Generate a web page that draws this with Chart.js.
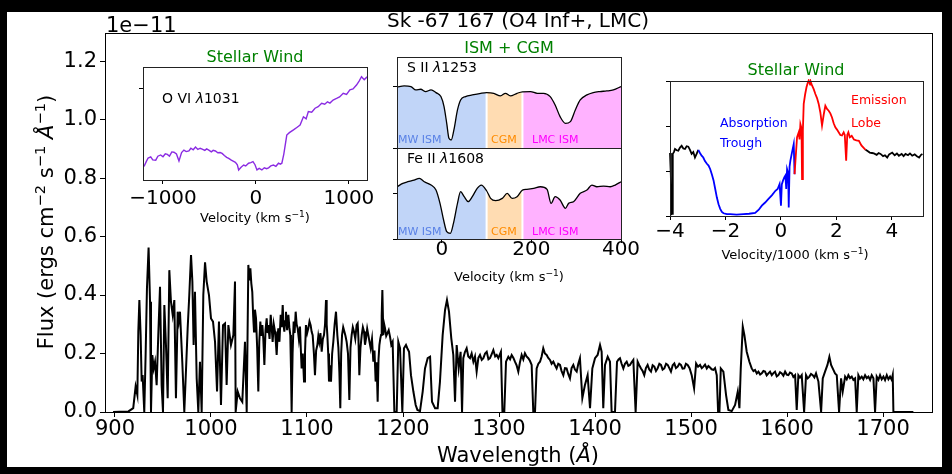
<!DOCTYPE html>
<html>
<head>
<meta charset="utf-8">
<script src="https://cdn.jsdelivr.net/npm/chart.js@4.4.0/dist/chart.umd.min.js"></script>
<style>
  html, body { margin: 0; padding: 0; background: #000; width: 952px; height: 474px; overflow: hidden; }
  #fig { position: absolute; left: 7px; top: 12px; width: 935px; height: 455px; background: #fff; }
  canvas { position: absolute; left: 0; top: 0; }
</style>
</head>
<body>
<div id="fig"></div>
<canvas id="main" width="952" height="474"></canvas>
<canvas id="ovi" width="952" height="474"></canvas>
<canvas id="sii" width="952" height="474"></canvas>
<canvas id="feii" width="952" height="474"></canvas>
<canvas id="civ" width="952" height="474"></canvas>
<script>
// ---- full UV spectrum, flux in units of 1e-11 erg cm^-2 s^-1 A^-1 ----
const specWave = [
  898, 905, 914, 919, 921.5, 923.3, 924.3, 925.4, 926.7, 927.8,
  928.8, 930.5, 931.9, 933.3, 935, 936.5, 937.5, 938.9, 940.3, 941.7,
  943.4, 945.1, 946.9, 948.6, 950, 951.4, 953.1, 954.9, 956.6, 958.3,
  960.1, 961.8, 963.5, 965.3, 966.5, 967.7, 969, 970.1, 972.2, 973.9,
  975.7, 977.4, 979.2, 980.6, 981.9, 983.3, 985.1, 986.8, 988.5, 990.3,
  992, 993.8, 995.5, 997.9, 1000, 1002.1, 1004.2, 1006.3, 1008.3, 1010.4,
  1012.5, 1014.6, 1016.3, 1018.1, 1020.8, 1023.3, 1025, 1025.7, 1027.8, 1030.2,
  1032.6, 1035.4, 1037.2, 1038.9, 1040, 1041, 1042, 1043, 1043.9, 1044.8,
  1045.8, 1046.9, 1048.1, 1049.3, 1050.3, 1051.4, 1052.4, 1053.5, 1054.5, 1055.6,
  1056.8, 1058, 1058.9, 1059.7, 1061, 1062.2, 1063.2, 1064.2, 1065.4, 1066.7,
  1067.5, 1068.4, 1069.2, 1070.1, 1071.3, 1072.6, 1073.6, 1074.7, 1075.5, 1076.4,
  1077.2, 1078.1, 1079.3, 1080.6, 1081.6, 1082.6, 1083.3, 1084, 1085, 1086.1,
  1087.1, 1088.2, 1089.2, 1090.3, 1091.5, 1092.7, 1093.5, 1094.4, 1095.6, 1096.9,
  1097.9, 1098.9, 1100.2, 1101.4, 1102.6, 1103.8, 1104.8, 1105.9, 1107.2, 1108.3,
  1109.5, 1110.8, 1111.8, 1112.8, 1114, 1115.3, 1116.5, 1117.7, 1118.8, 1119.8,
  1120.5, 1121.2, 1122.1, 1122.9, 1124, 1125, 1126.2, 1127.4, 1128.8, 1130.2,
  1131.6, 1132.7, 1133.7, 1134.7, 1135.6, 1136.5, 1137.7, 1138.9, 1140.1, 1141.3,
  1142.7, 1144.1, 1145.3, 1146.5, 1147.7, 1148.9, 1150.3, 1151.7, 1152.8, 1153.6,
  1154.5, 1155.7, 1157, 1158.2, 1159.4, 1160.4, 1161.5, 1162.7, 1163.9, 1165.1,
  1166.3, 1167.7, 1169.1, 1170.3, 1171.5, 1172.5, 1173.6, 1174.5, 1175.4, 1176.3,
  1177.1, 1177.8, 1178.5, 1179.5, 1180.4, 1181.3, 1182.5, 1183.7, 1185.1, 1186.5,
  1187.8, 1189.2, 1191, 1193.4, 1195.1, 1196.9,
  1199.3, 1201, 1203.1, 1204.5, 1206.3, 1208.3, 1210.8, 1213.2, 1215, 1217.7,
  1220.5, 1222.9, 1225.7, 1228.2, 1230.2, 1233.4, 1236.1, 1238.5, 1241.3, 1243.8,
  1245.8, 1247.9, 1250.3, 1252.4, 1254.2, 1255.9, 1258, 1260, 1261.5, 1262.8,
  1264.5, 1266.3, 1268, 1269.8, 1271.5, 1273.3, 1275, 1276.7, 1278.5, 1280.2,
  1282, 1283.7, 1285.5, 1287.2, 1289, 1290.6, 1292.4, 1294.1, 1296, 1297.6,
  1299.3, 1302, 1303.6, 1305.5, 1307.3, 1309.7, 1311.5, 1313.2, 1315, 1316.6,
  1318.3, 1320.1, 1321.8, 1323.6, 1325.3, 1327, 1328.7, 1330.5, 1332.2, 1334,
  1335.7, 1337.5, 1339.2, 1341, 1342.7, 1344.4, 1346.1, 1347.8, 1349.6, 1351.3,
  1353.1, 1354.8, 1356.6, 1358.3, 1360, 1361.7, 1363.5, 1365.2, 1367, 1368.7,
  1370.4, 1372.1, 1373.9, 1375.6, 1377.4, 1379.1, 1380.9, 1382.6, 1384.3, 1386.8,
  1389.5, 1392.3, 1394.8, 1397.2, 1400, 1402.7, 1405.2, 1406.9, 1408.6, 1410.4,
  1413.2, 1415.6, 1417.3, 1420.8, 1422.9, 1424.5, 1426, 1427.7, 1429.5, 1431.2,
  1433, 1434.7, 1436.4, 1438.1, 1439.9, 1442.3, 1444.4, 1446.1, 1447.9, 1449.6,
  1451.3, 1453, 1454.8, 1456.5, 1458.3, 1460, 1461.8, 1463.5, 1465.2, 1467,
  1468.7, 1470.4, 1472.2, 1474, 1475.7, 1477.4, 1479.1, 1480.9, 1482.6, 1484.3,
  1486.1, 1487.8, 1489.5, 1491.2, 1493, 1494.7, 1496.5, 1498.5, 1500.7, 1503.2,
  1505.3, 1507.3, 1509.4, 1511.2, 1512.9, 1514.6, 1516.4, 1518.1, 1519.8, 1521.5,
  1523.3, 1525, 1526.8, 1528.2, 1529.6, 1531, 1533.7, 1536.5, 1538.9, 1542.4,
  1545.9, 1548.7, 1550.4, 1551.8, 1553.9, 1555.6, 1558, 1560.8, 1563.2, 1565,
  1566.7, 1568.5, 1570.2, 1572, 1573.7, 1575.4, 1577.1, 1578.8, 1580.6, 1582.3,
  1584.1, 1585.8, 1587.5, 1589.3, 1591, 1592.7, 1594.5, 1596.2, 1598, 1599.7,
  1601.4, 1603.1, 1604.9, 1606.6, 1608.4, 1610.1, 1611.8, 1613.5, 1615.3, 1617.8,
  1619.8, 1621.5, 1623.3, 1625, 1626.8, 1628.5, 1630.2, 1632.7, 1635.5, 1637.2,
  1639.6, 1642.1, 1644.1, 1645.9, 1648.3, 1650, 1651.8, 1654.2, 1656.3, 1658,
  1660.5, 1662.2, 1663.9, 1665.6, 1667.4, 1669.1, 1670.9, 1672.6, 1674.3, 1676,
  1677.8, 1679.5, 1681.3, 1683, 1684.8, 1686.5, 1688.2, 1690, 1691.7, 1693.4,
  1695.2, 1696.9, 1698.6, 1700.4, 1702.1, 1703.9, 1705.6, 1707.3, 1709, 1710.1,
  1710.8, 1731.6
];
const specFlux = [
  0, 0.001, 0.002, 0.013, 0.087, 0.058, 0.275, 0.383, 0.263, 0.104,
  0.126, 0, 0.195, 0.423, 0.562, 0.377, 0, 0.195, 0.149, 0.172,
  0.092, 0.263, 0.428, 0.092, 0, 0.366, 0.229, 0.047, 0.485, 0.377,
  0.332, 0.383, 0.047, 0.343, 0.31, 0.343, 0.25, 0.172, 0, 0.138,
  0.286, 0.4, 0.537, 0.446, 0.229, 0.411, 0.115, 0, 0.172, 0,
  0.4, 0.512, 0.446, 0.4, 0.32, 0.309, 0.24, 0.07, 0.309, 0.024,
  0.297, 0.303, 0.092, 0.297, 0.229, 0.263, 0.446, 0, 0.07, 0.047,
  0.035, 0.24, 0, 0.503, 0.45, 0.491, 0.44, 0.411, 0.33, 0.275,
  0.35, 0.32, 0.22, 0.07, 0.24, 0.309, 0.26, 0.297, 0.25, 0.161,
  0.28, 0.32, 0.27, 0.297, 0.25, 0.332, 0.29, 0.24, 0.3, 0.275,
  0.24, 0.195, 0.25, 0.286, 0.24, 0.332, 0.29, 0.366, 0.3, 0.275,
  0.31, 0.343, 0.28, 0.332, 0.29, 0.263, 0.15, 0, 0.2, 0.309,
  0.27, 0.343, 0.3, 0.286, 0.25, 0.292, 0.22, 0.149, 0.2, 0.104,
  0.2, 0.297, 0.27, 0.286, 0.31, 0.297, 0.275, 0.263, 0.2, 0.126,
  0.21, 0.229, 0.26, 0.24, 0.27, 0.206, 0.25, 0.263, 0.3, 0.383,
  0.3, 0.263, 0.2, 0.104, 0.16, 0.104, 0.2, 0.24, 0.3, 0.343,
  0.263, 0.22, 0.138, 0.013, 0.2, 0.263, 0.29, 0.275, 0.26, 0.24,
  0.2, 0.041, 0.22, 0.263, 0.29, 0.275, 0.25, 0.297, 0.303, 0.25,
  0.126, 0.22, 0.263, 0.29, 0.275, 0.23, 0.252, 0.285, 0.263, 0.24,
  0.218, 0.25, 0.172, 0.21, 0.104, 0.17, 0.035, 0.18, 0.229, 0.25,
  0.263, 0.33, 0.417, 0.263, 0.3, 0.286, 0.26, 0.269, 0.28, 0.257,
  0.23, 0.24, 0, 0, 0.24, 0.218,
  0, 0.218, 0.229, 0.218, 0.206, 0.126, 0.07, 0.024, 0.007, 0.003,
  0.07, 0.149, 0.184, 0.189, 0.035, 0.013, 0.013, 0.104, 0.263, 0.349,
  0.383, 0.343, 0.252, 0.195, 0.035, 0.229, 0.149, 0.206, 0, 0.184,
  0.205, 0.218, 0.19, 0.184, 0.2, 0.172, 0.19, 0.138, 0.185, 0.195,
  0.178, 0.184, 0.2, 0.206, 0.18, 0.184, 0.198, 0.212, 0.19, 0.195,
  0.184, 0.206, 0, 0, 0.172, 0.189, 0.18, 0.195, 0.185, 0.172,
  0.16, 0.138, 0.17, 0.195, 0.18, 0.201, 0.19, 0.184, 0.175, 0.161,
  0, 0, 0.149, 0.165, 0.172, 0.19, 0.218, 0.2, 0.195, 0.185,
  0.178, 0.165, 0.172, 0.16, 0.149, 0.165, 0.161, 0.14, 0.126, 0.15,
  0.149, 0.13, 0.115, 0.15, 0.161, 0.145, 0.138, 0.165, 0.184, 0.047,
  0.092, 0.126, 0.013, 0.149, 0.184, 0.195, 0.229, 0.206, 0.013, 0.161,
  0.189, 0.172, 0, 0, 0.172, 0.18, 0.184, 0.165, 0.149, 0.165,
  0.172, 0.158, 0.161, 0.17, 0.178, 0, 0.172, 0.16, 0.149, 0.14,
  0.126, 0.15, 0.161, 0.145, 0.138, 0.16, 0.155, 0.14, 0.149, 0.165,
  0.161, 0.145, 0.149, 0.165, 0.161, 0.15, 0.138, 0.16, 0.166, 0.15,
  0.155, 0.165, 0.161, 0.148, 0.149, 0.165, 0.161, 0.15, 0.126, 0.081,
  0.166, 0.155, 0.161, 0.15, 0.155, 0.162, 0.149, 0.157, 0.152, 0.146,
  0.144, 0.15, 0.126, 0, 0, 0.149, 0.138, 0.058, 0.007, 0.003,
  0.024, 0.07, 0.013, 0.149, 0.292, 0.263, 0.206, 0.172, 0.149, 0.14,
  0.144, 0.132, 0.138, 0.128, 0.132, 0.14, 0.138, 0.125, 0.132, 0.138,
  0.126, 0.133, 0.138, 0.122, 0.126, 0.136, 0.132, 0.124, 0.138, 0.128,
  0.126, 0.135, 0.132, 0.12, 0.126, 0.007, 0.126, 0.118, 0.126, 0,
  0.126, 0.115, 0.121, 0.13, 0.126, 0.118, 0.132, 0.104, 0, 0.115,
  0.138, 0.161, 0.189, 0.161, 0.144, 0.132, 0.126, 0, 0.115, 0.07,
  0.121, 0.112, 0.126, 0.116, 0.121, 0.11, 0.115, 0, 0.126, 0.114,
  0.121, 0.112, 0.126, 0.116, 0.121, 0.11, 0.126, 0.115, 0, 0.121,
  0.11, 0.126, 0.112, 0.121, 0.109, 0.126, 0.112, 0.121, 0.11, 0.126,
  0, 0
];
const waveTicks = [900, 1000, 1100, 1200, 1300, 1400, 1500, 1600, 1700];
const fluxTicks = [0, 0.2, 0.4, 0.6, 0.8, 1.0, 1.2];

// ---- O VI 1031 profile ----
const oviVel = [
  -1204, -1180, -1160, -1132, -1110, -1078, -1055, -1025, -1000, -975,
  -953, -930, -905, -882, -855, -828, -800, -775, -750, -721,
  -700, -675, -650, -625, -600, -578, -550, -530, -507, -480,
  -460, -436, -410, -385, -364, -340, -315, -293, -265, -240,
  -221, -200, -186, -160, -132, -110, -79, -55, -32, -10,
  11, 35, 64, 90, 115, 136, 160, 189, 215, 243,
  262, 279, 300, 332, 360, 404, 440, 475, 511, 540,
  564, 600, 636, 670, 707, 740, 770, 796, 830, 868,
  900, 939, 975, 1011, 1045, 1082, 1110, 1136, 1165, 1196
];
const oviFlux = [
  0.144, 0.160, 0.172, 0.176, 0.166, 0.165, 0.178, 0.182, 0.176, 0.186,
  0.184, 0.178, 0.192, 0.191, 0.185, 0.162, 0.190, 0.198, 0.193, 0.195,
  0.204, 0.199, 0.208, 0.200, 0.204, 0.201, 0.197, 0.202, 0.198, 0.192,
  0.197, 0.195, 0.189, 0.190, 0.187, 0.180, 0.174, 0.171, 0.165, 0.161,
  0.158, 0.150, 0.133, 0.142, 0.149, 0.146, 0.155, 0.157, 0.160, 0.150,
  0.133, 0.138, 0.133, 0.140, 0.137, 0.140, 0.146, 0.149, 0.145, 0.155,
  0.152, 0.155, 0.185, 0.247, 0.255, 0.264, 0.272, 0.280, 0.307, 0.300,
  0.324, 0.322, 0.335, 0.340, 0.351, 0.348, 0.356, 0.352, 0.362, 0.367,
  0.372, 0.384, 0.380, 0.395, 0.398, 0.411, 0.424, 0.438, 0.428, 0.438
];
const oviTicks = [-1000, 0, 1000];

// ---- S II 1253 and Fe II 1608 normalised profiles ----
const siiVel = [
  -100, -84, -69, -58, -47, -36, -24, -13, -2, 5,
  11, 16, 21, 27, 35, 42, 53, 68, 87, 100,
  116, 131, 142, 153, 168, 180, 198, 213, 227, 242,
  253, 264, 276, 287, 298, 309, 324, 338, 353, 368,
  383, 400
];
const siiFlux = [
  0.995, 1.017, 1.006, 0.951, 0.962, 0.924, 0.951, 0.907, 0.842, 0.678,
  0.404, 0.158, 0.131, 0.295, 0.623, 0.787, 0.842, 0.869, 0.896, 0.907,
  0.896, 0.852, 0.896, 0.852, 0.896, 0.92, 0.924, 0.896, 0.896, 0.842,
  0.705, 0.514, 0.404, 0.432, 0.623, 0.787, 0.869, 0.907, 0.924, 0.934,
  0.951, 1.006
];
const feiiVel = [
  -100, -87, -76, -62, -50, -39, -24, -13, -4, 4,
  11, 19, 26, 35, 42, 50, 59, 68, 79, 88,
  100, 109, 120, 135, 146, 157, 168, 180, 190, 205,
  220, 235, 244, 253, 264, 276, 283, 294, 309, 324,
  335, 346, 361, 376, 387, 400
];
const feiiFlux = [
  1.137, 1.21, 1.246, 1.283, 1.319, 1.246, 1.174, 1.065, 0.775, 0.413,
  0.159, 0.123, 0.34, 0.775, 1.029, 0.92, 0.812, 0.92, 1.101, 1.174,
  1.05, 0.884, 0.833, 0.884, 0.993, 0.884, 0.92, 1.065, 1.08, 1.101,
  1.137, 1.08, 0.775, 0.92, 0.848, 0.667, 0.775, 0.812, 0.993, 1.065,
  1.174, 1.137, 1.152, 1.137, 1.174, 1.246
];
const ismEdges = [-100, 100, 180, 400];
const ismNames = ['MW ISM', 'CGM', 'LMC ISM'];
const ismTicks = [0, 200, 400];

// ---- C IV P Cygni profile (velocity / 1000) ----
const civVel = [
  -4.00, -3.97, -3.95, -3.92, -3.90, -3.86, -3.82, -3.76, -3.70, -3.64,
  -3.58, -3.52, -3.46, -3.40, -3.34, -3.28, -3.22, -3.16, -3.10, -3.04,
  -2.98, -2.92, -2.86, -2.80, -2.74, -2.67, -2.61, -2.55, -2.49, -2.43,
  -2.37, -2.31, -2.25, -2.19, -2.13, -2.07, -1.95, -1.83, -1.60, -1.35,
  -1.15, -0.93, -0.80, -0.69, -0.57, -0.45, -0.33, -0.20, -0.12, -0.05,
  0.00, 0.03, 0.07, 0.12, 0.16, 0.19, 0.22, 0.26, 0.28, 0.31,
  0.34, 0.40, 0.46, 0.49, 0.53, 0.58, 0.64, 0.67, 0.70, 0.74,
  0.76, 0.79, 0.82, 0.87, 0.92, 0.96, 1.00, 1.05, 1.08, 1.12,
  1.18, 1.24, 1.30, 1.36, 1.42, 1.48, 1.54, 1.60, 1.66, 1.72,
  1.78, 1.84, 1.90, 1.96, 2.02, 2.08, 2.14, 2.20, 2.26, 2.30,
  2.35, 2.39, 2.43, 2.48, 2.55, 2.63, 2.72, 2.81, 2.90, 2.99,
  3.05, 3.11, 3.20, 3.28, 3.35, 3.45, 3.52, 3.59, 3.68, 3.75,
  3.83, 3.90, 4.01, 4.10, 4.18, 4.25, 4.35, 4.42, 4.49, 4.58,
  4.65, 4.73, 4.82, 4.90, 4.98, 5.05, 5.10
];
const civFlux = [
  1.40, 0.90, 0.04, 0.05, 1.38, 1.42, 1.49, 1.46, 1.45, 1.52,
  1.56, 1.50, 1.49, 1.55, 1.54, 1.47, 1.38, 1.42, 1.30, 1.38,
  1.47, 1.40, 1.34, 1.30, 1.22, 1.16, 1.12, 1.04, 0.92, 0.79,
  0.60, 0.41, 0.26, 0.16, 0.09, 0.06, 0.04, 0.04, 0.03, 0.04,
  0.05, 0.07, 0.14, 0.23, 0.30, 0.38, 0.46, 0.56, 0.60, 0.71,
  0.23, 0.70, 0.78, 0.86, 0.90, 0.60, 1.04, 0.95, 0.19, 1.10,
  1.23, 1.42, 1.60, 0.93, 1.30, 1.75, 1.86, 1.70, 2.04, 1.95,
  0.82, 1.90, 2.49, 2.70, 2.86, 2.95, 3.01, 2.92, 2.97, 2.90,
  2.82, 2.71, 2.62, 2.49, 2.30, 2.01, 2.25, 2.45, 2.38, 2.34,
  2.28, 2.19, 2.06, 1.97, 1.92, 1.86, 1.80, 1.79, 1.86, 1.80,
  1.23, 1.80, 1.86, 1.75, 1.78, 1.70, 1.68, 1.67, 1.57, 1.51,
  1.47, 1.45, 1.41, 1.40, 1.39, 1.36, 1.40, 1.38, 1.33, 1.35,
  1.30, 1.37, 1.41, 1.35, 1.39, 1.34, 1.38, 1.33, 1.38, 1.35,
  1.39, 1.34, 1.37, 1.33, 1.30, 1.36, 1.38
];
const civEdges = [-3.0, 0.48, 3.02];   // wind / trough / lobe / wind
const civTicks = [-4, -2, 0, 2, 4];

const W = 952, H = 474;
const FONT = '"DejaVu Sans"';
Chart.defaults.font.family = 'DejaVu Sans';

const signed = v => (v < 0 ? '\u2212' + Math.abs(v) : String(v));
const xy = (xs, ys) => xs.map((x, i) => ({ x, y: ys[i] }));

// padding that puts the plot area at box {l,t,r,b} on a full-size canvas
function padFor(box, yw, xh) {
  return { left: box.l - yw, top: box.t, right: W - box.r, bottom: H - box.b - xh };
}

function axis(min, max, ticks, o) {
  return {
    type: 'linear', min, max, display: o.display !== false,
    afterBuildTicks: s => { s.ticks = ticks.map(v => ({ value: v })); },
    afterFit: s => { if (s.isHorizontal()) s.height = o.size; else s.width = o.size; },
    grid: { drawOnChartArea: false, drawTicks: true, tickLength: o.tick, color: '#000', lineWidth: 1 },
    border: { display: false },
    ticks: {
      display: !!o.fmt, padding: o.pad || 0, color: '#000', maxRotation: 0, autoSkip: false,
      font: { size: o.font || 20 }, callback: o.fmt || (() => '')
    }
  };
}

function framePlugin(color) {
  return {
    id: 'frame',
    afterDatasetsDraw(chart) {
      const { ctx, chartArea: a } = chart;
      ctx.save();
      ctx.strokeStyle = color;
      ctx.lineWidth = 1;
      ctx.strokeRect(Math.round(a.left) + 0.5, Math.round(a.top) + 0.5,
        Math.round(a.right - a.left), Math.round(a.bottom - a.top));
      ctx.restore();
    }
  };
}

// text runs: [string, flags] with 'i' = italic, 's' = superscript
function drawRich(ctx, it) {
  const runs = typeof it.text === 'string' ? [[it.text, '']] : it.text;
  const fontOf = f => (f.includes('i') ? 'italic ' : '') + (f.includes('s') ? it.size * 0.7 : it.size) + 'px ' + FONT;
  ctx.save();
  ctx.translate(it.x, it.y);
  if (it.rot) ctx.rotate(it.rot);
  ctx.fillStyle = it.color || '#000';
  ctx.textBaseline = 'alphabetic';
  ctx.textAlign = 'left';
  let total = 0;
  runs.forEach(([t, f]) => { ctx.font = fontOf(f); total += ctx.measureText(t).width; });
  let x = it.align === 'center' ? -total / 2 : it.align === 'right' ? -total : 0;
  runs.forEach(([t, f]) => {
    ctx.font = fontOf(f);
    ctx.fillText(t, x, f.includes('s') ? -it.size * 0.4 : 0);
    x += ctx.measureText(t).width;
  });
  ctx.restore();
}

function textPlugin(items) {
  return { id: 'texts', afterDraw(chart) { items.forEach(it => drawRich(chart.ctx, it)); } };
}

const baseOptions = layoutPadding => ({
  responsive: false, animation: false, events: [],
  layout: { padding: layoutPadding },
  plugins: { legend: { display: false }, tooltip: { enabled: false } },
  elements: { point: { radius: 0 } }
});

const velLabel = (x, y, pre) => ({
  x, y, size: 13, align: 'center',
  text: [[pre + ' (km s', ''], ['\u22121', 's'], [')', '']]
});

// ---------------- main spectrum ----------------
const mainBox = { l: 105, t: 33, r: 932, b: 412 };
new Chart(document.getElementById('main'), {
  type: 'line',
  data: { datasets: [{ data: xy(specWave, specFlux), borderColor: '#000', borderWidth: 2, tension: 0, clip: 3 }] },
  options: Object.assign(baseOptions(padFor(mainBox, 105, 62)), {
    scales: {
      x: axis(889.6, 1751, waveTicks, { size: 62, tick: 5, pad: 0, font: 21, fmt: v => String(v) }),
      y: axis(0, 1.296, fluxTicks, { size: 105, tick: 5, pad: 3, font: 21, fmt: v => v.toFixed(1) })
    }
  }),
  plugins: [framePlugin('#000'), textPlugin([
    { text: 'Sk -67 167 (O4 Inf+, LMC)', x: 518, y: 27, size: 20, align: 'center' },
    { text: '1e\u221211', x: 106, y: 32, size: 21 },
    { text: [['Wavelength (', ''], ['\u00c5', 'i'], [')', '']], x: 518, y: 462, size: 21, align: 'center' },
    { text: [['Flux (ergs cm', ''], ['\u22122', 's'], [' s', ''], ['\u22121', 's'], [' ', ''], ['\u00c5', 'i'], ['\u22121', 's'], [')', '']],
      x: 53, y: 222, size: 21, align: 'center', rot: -Math.PI / 2 }
  ])]
});

// ---------------- O VI inset ----------------
const oviBox = { l: 143, t: 67, r: 367, b: 180 };
new Chart(document.getElementById('ovi'), {
  type: 'line',
  data: { datasets: [{ data: xy(oviVel, oviFlux), borderColor: '#8a2be2', borderWidth: 1.4, tension: 0 }] },
  options: Object.assign(baseOptions(padFor(oviBox, 5, 30)), {
    scales: {
      x: axis(-1215, 1195, oviTicks, { size: 30, tick: 4, pad: 2.5, font: 20, fmt: signed }),
      y: axis(0.1, 0.47, [0.4], { size: 5, tick: 4 })
    }
  }),
  plugins: [framePlugin('#222'), textPlugin([
    { text: 'Stellar Wind', x: 255, y: 62, size: 16, align: 'center', color: '#008000' },
    { text: [['O VI ', ''], ['\u03bb', 'i'], ['1031', '']], x: 162, y: 103, size: 14 },
    velLabel(255, 222, 'Velocity')
  ])]
});

// ---------------- S II / Fe II inset ----------------
const ismFill = ['rgba(100,149,237,0.4)', 'rgba(255,140,0,0.3)', 'rgba(255,0,255,0.3)'];
const ismText = ['#5a82e6', '#ff8c00', '#ff00ff'];
const ismLabelX = [398, 491, 532];

function ismPanel(id, box, vel, flux, yMax, showX, ionText, labelY, extra) {
  const pts = xy(vel, flux);
  const fills = ismNames.map((n, k) => ({
    data: pts.filter(p => p.x >= ismEdges[k] && p.x <= ismEdges[k + 1]),
    fill: 'origin', backgroundColor: ismFill[k], borderWidth: 0, borderColor: 'rgba(0,0,0,0)',
    cubicInterpolationMode: 'monotone', order: k + 1
  }));
  const xh = showX ? 30 : 0;
  const texts = [{ text: ionText, x: 407, y: box.t + 15, size: 14 }]
    .concat(ismNames.map((n, k) => ({ text: n, x: ismLabelX[k], y: labelY, size: 11, color: ismText[k] })))
    .concat(extra);
  new Chart(document.getElementById(id), {
    type: 'line',
    data: { datasets: [{ data: pts, borderColor: '#000', borderWidth: 1.3, fill: false, cubicInterpolationMode: 'monotone', order: 0 }].concat(fills) },
    options: Object.assign(baseOptions(padFor(box, 5, xh)), {
      scales: {
        x: showX ? axis(-100, 400, ismTicks, { size: 30, tick: 4, pad: -5, font: 20, fmt: signed })
                 : { type: 'linear', min: -100, max: 400, display: false },
        y: axis(0, yMax, [0, 1], { size: 5, tick: 4 })
      }
    }),
    plugins: [{
      id: 'gaps',
      beforeDatasetDraw(chart, args) {
        if (args.index !== 0) return;
        const { ctx, chartArea: a, scales } = chart;
        ctx.save();
        ctx.fillStyle = '#fff';
        [ismEdges[1], ismEdges[2]].forEach(v => {
          const px = scales.x.getPixelForValue(v);
          ctx.fillRect(px - 1, a.top, 2, a.bottom - a.top);
        });
        ctx.restore();
      }
    }, framePlugin('#222'), textPlugin(texts)]
  });
}

ismPanel('sii', { l: 397, t: 57, r: 621, b: 148 }, siiVel, siiFlux, 1.49, false,
  [['S II ', ''], ['\u03bb', 'i'], ['1253', '']], 142.5,
  [{ text: 'ISM + CGM', x: 509, y: 52.5, size: 16, align: 'center', color: '#008000' }]);
ismPanel('feii', { l: 397, t: 148, r: 621, b: 239 }, feiiVel, feiiFlux, 1.98, true,
  [['Fe II ', ''], ['\u03bb', 'i'], ['1608', '']], 234.5,
  [velLabel(509, 281, 'Velocity')]);

// ---------------- C IV inset ----------------
const civBox = { l: 670, t: 81, r: 923, b: 216 };
const civColors = ['#000', '#0000ff', '#ff0000', '#000'];
const civColor = x => civColors[civEdges.filter(e => x >= e).length];
new Chart(document.getElementById('civ'), {
  type: 'line',
  data: { datasets: [{
    data: xy(civVel, civFlux), borderWidth: 1.8, tension: 0, clip: 2, borderColor: '#000',
    segment: { borderColor: c => civColor(c.p0.parsed.x) }
  }] },
  options: Object.assign(baseOptions(padFor(civBox, 5, 30)), {
    scales: {
      x: axis(-4, 5.12, civTicks, { size: 30, tick: 4, pad: 0, font: 20, fmt: signed }),
      y: axis(0, 3, [0, 1, 2, 3], { size: 5, tick: 4 })
    }
  }),
  plugins: [framePlugin('#222'), textPlugin([
    { text: 'Stellar Wind', x: 796, y: 75, size: 16, align: 'center', color: '#008000' },
    { text: 'Absorption', x: 720, y: 127, size: 12.5, color: '#0000ff' },
    { text: 'Trough', x: 720, y: 147, size: 12.5, color: '#0000ff' },
    { text: 'Emission', x: 851, y: 104, size: 12.5, color: '#ff0000' },
    { text: 'Lobe', x: 851, y: 126.5, size: 12.5, color: '#ff0000' },
    velLabel(795, 259, 'Velocity/1000')
  ])]
});
</script>
</body>
</html>
